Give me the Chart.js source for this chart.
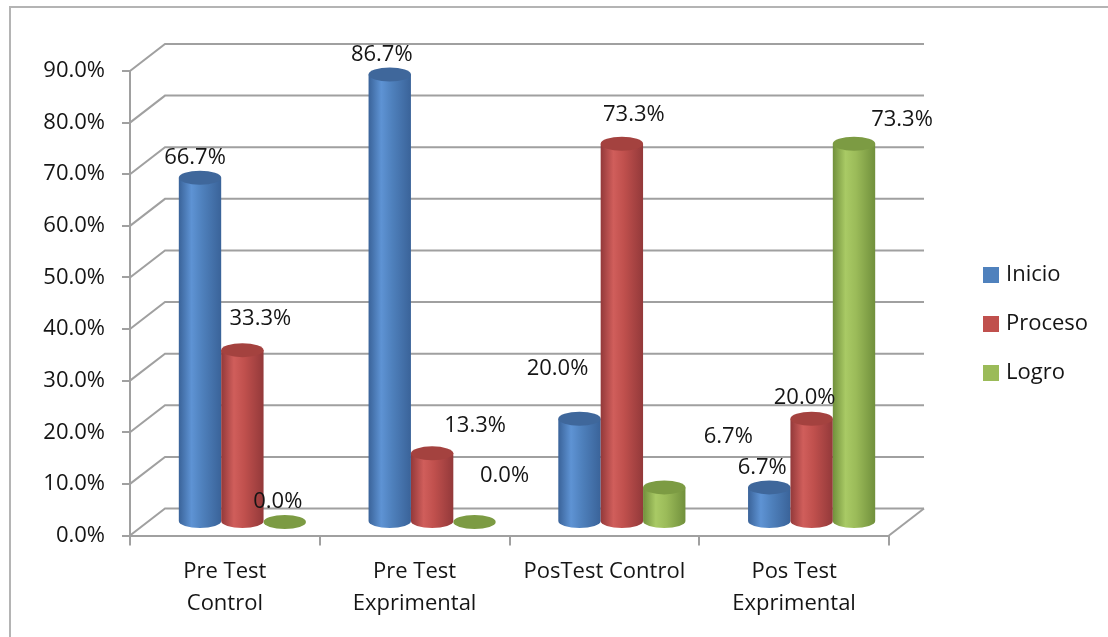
<!DOCTYPE html>
<html>
<head>
<meta charset="utf-8">
<script src="https://cdn.jsdelivr.net/npm/chart.js@4.4.1/dist/chart.umd.min.js"></script>
<style>
  html, body { margin: 0; padding: 0; background: #ffffff; }
  #wrap { width: 1108px; height: 637px; position: relative; }
</style>
</head>
<body>
<div id="wrap"><canvas id="c" width="1108" height="637"></canvas></div>
<script>
// ---- Data ----
const categories = [['Pre Test', 'Control'], ['Pre Test', 'Exprimental'], 'PosTest Control', ['Pos Test', 'Exprimental']];
const seriesNames = ['Inicio', 'Proceso', 'Logro'];
const inicio = [66.7, 86.7, 20.0, 6.7];
const proceso = [33.3, 13.3, 73.3, 20.0];
const logro = [0.0, 0.0, 6.7, 73.3];
const yMin = 0, yMax = 90, yStep = 10;

// ---- Styles ----
const FONT = "'Open Sans', 'Liberation Sans', sans-serif";
const FSIZE = 22;
const TEXT = '#151515';
const GRID = '#a0a0a0';
const DEPTH_X = 35, DEPTH_Y = 27;
const palette = [
  { base: '#4f81bd', dark: '#3a6399', light: '#5e93d4', top: '#3f679b' },
  { base: '#c0504d', dark: '#93393a', light: '#d05e5b', top: '#a4423f' },
  { base: '#9bbb59', dark: '#71903c', light: '#a9ca65', top: '#7c9b43' }
];
// data label offsets (px) relative to the top of each cylinder, per series/category
const labelOffsets = [
  [[-5, -20], [-8, -20], [-22, -50], [-7, -20]],
  [[18, -31], [43, -28], [12, -29], [-7, -21]],
  [[-7, -20], [30, -46], [64, -51], [48, -24]]
];

const threeD = {
  id: 'threeD',
  beforeDraw(chart) {
    const ctx = chart.ctx;
    ctx.save();
    ctx.fillStyle = '#ffffff';
    ctx.fillRect(0, 0, chart.width, chart.height);
    ctx.strokeStyle = '#b4b4b4';
    ctx.lineWidth = 2;
    ctx.strokeRect(10, 7, chart.width + 40, chart.height + 40);
    ctx.restore();
  },
  beforeDatasetsDraw(chart) {
    const ctx = chart.ctx;
    const ca = chart.chartArea;
    const ys = chart.scales.y;
    ctx.save();
    ctx.strokeStyle = GRID;
    ctx.lineWidth = 2;
    ys.ticks.forEach(t => {
      const y = ys.getPixelForValue(t.value);
      ctx.beginPath();
      ctx.moveTo(ca.left, y);
      ctx.lineTo(ca.left + DEPTH_X, y - DEPTH_Y);
      ctx.lineTo(ca.right + DEPTH_X, y - DEPTH_Y);
      ctx.stroke();
    });
    ctx.beginPath();
    ctx.moveTo(ca.right, ca.bottom);
    ctx.lineTo(ca.right + DEPTH_X, ca.bottom - DEPTH_Y);
    ctx.stroke();

    const sx = DEPTH_X / 2, sy = DEPTH_Y / 2;
    chart.data.datasets.forEach((ds, di) => {
      const meta = chart.getDatasetMeta(di);
      const col = palette[di];
      meta.data.forEach((el, i) => {
        const p = el.getProps(['x', 'y', 'base', 'width'], true);
        const cx = p.x + sx;
        const top = p.y - sy;
        const base = p.base - sy;
        const rx = p.width / 2;
        const ry = 7;
        const left = cx - rx, right = cx + rx;
        const g = ctx.createLinearGradient(left, 0, right, 0);
        g.addColorStop(0, col.dark);
        g.addColorStop(0.3, col.light);
        g.addColorStop(0.55, col.base);
        g.addColorStop(1, col.dark);
        if (base - top > 0.5) {
          ctx.beginPath();
          ctx.moveTo(left, top);
          ctx.lineTo(left, base);
          ctx.ellipse(cx, base, rx, ry, 0, Math.PI, 0, true);
          ctx.lineTo(right, top);
          ctx.closePath();
          ctx.fillStyle = g;
          ctx.fill();
        }
        ctx.beginPath();
        ctx.ellipse(cx, top, rx, ry, 0, 0, Math.PI * 2);
        ctx.fillStyle = col.top;
        ctx.fill();
      });
    });

    ctx.font = FSIZE + 'px ' + FONT;
    ctx.fillStyle = TEXT;
    ctx.textAlign = 'center';
    ctx.textBaseline = 'middle';
    chart.data.datasets.forEach((ds, di) => {
      const meta = chart.getDatasetMeta(di);
      meta.data.forEach((el, i) => {
        const p = el.getProps(['x', 'y'], true);
        const off = labelOffsets[di][i];
        ctx.fillText(ds.data[i].toFixed(1) + '%', p.x + sx + off[0], p.y - sy + off[1]);
      });
    });

    ctx.textAlign = 'left';
    chart.data.datasets.forEach((ds, di) => {
      const y = 275 + di * 49;
      ctx.fillStyle = palette[di].base;
      ctx.fillRect(983, y - 8, 16, 16);
      ctx.fillStyle = TEXT;
      ctx.fillText(ds.label, 1006, y);
    });
    ctx.restore();
    return false;
  }
};

new Chart(document.getElementById('c'), {
  type: 'bar',
  data: {
    labels: categories,
    datasets: [
      { label: seriesNames[0], data: inicio, backgroundColor: palette[0].base },
      { label: seriesNames[1], data: proceso, backgroundColor: palette[1].base },
      { label: seriesNames[2], data: logro, backgroundColor: palette[2].base }
    ]
  },
  options: {
    responsive: false,
    devicePixelRatio: 1,
    animation: false,
    layout: { padding: { left: 10, right: 219, top: 71, bottom: 21.5 } },
    datasets: { bar: { categoryPercentage: 0.67, barPercentage: 1.0 } },
    plugins: { legend: { display: false }, tooltip: { enabled: false } },
    scales: {
      x: {
        grid: { offset: true, drawOnChartArea: false, tickLength: 10, color: GRID, lineWidth: 2 },
        border: { color: GRID, width: 2 },
        ticks: { color: TEXT, font: { family: FONT, size: FSIZE, lineHeight: 1.43 }, padding: 11, maxRotation: 0, autoSkip: false },
        afterFit(s) { s.height = 80; }
      },
      y: {
        min: yMin, max: yMax,
        grid: { drawOnChartArea: false, tickLength: 8, color: GRID, lineWidth: 2 },
        border: { color: GRID, width: 2 },
        ticks: { stepSize: yStep, color: TEXT, font: { family: FONT, size: FSIZE }, padding: 17,
          callback: v => v.toFixed(1) + '%' },
        afterFit(s) { s.width = 120; }
      }
    }
  },
  plugins: [threeD]
});
</script>
</body>
</html>
